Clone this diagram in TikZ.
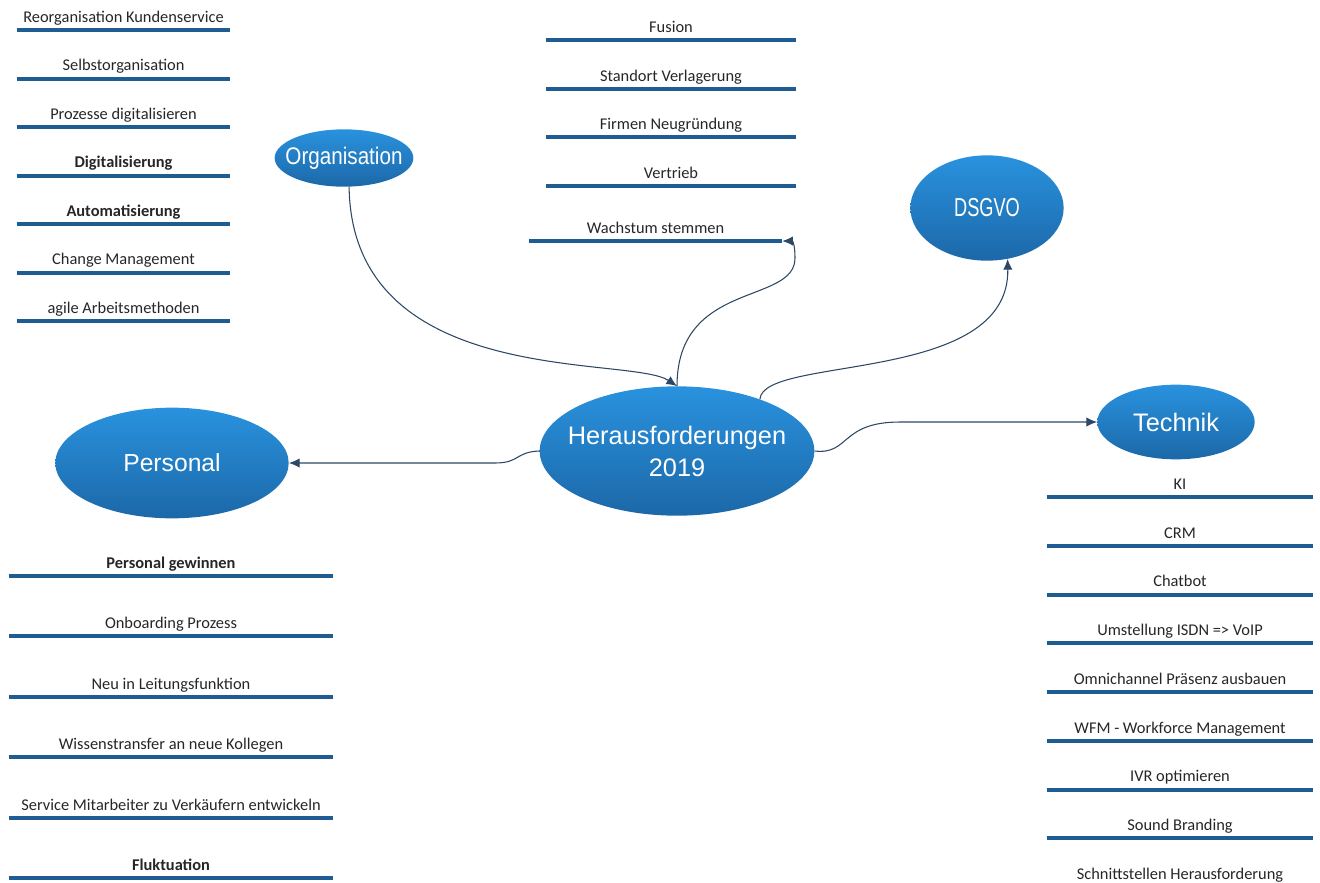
\documentclass[tikz,border=0pt]{standalone}
\usepackage{fontspec}
\setmainfont{Carlito}
\newfontfamily\ellfont{Liberation Sans}
\usepackage{xcolor}
\usetikzlibrary{arrows.meta,shapes.geometric,calc}
\definecolor{barblue}{RGB}{31,92,145}
\definecolor{connblue}{RGB}{45,72,100}
\definecolor{elltop}{RGB}{41,146,222}
\definecolor{ellbot}{RGB}{28,104,168}
\tikzset{>={Latex[length=8pt,width=7pt]}}
\tikzset{
  topic/.style={ellipse, inner sep=0pt, top color=elltop, bottom color=ellbot, draw=none},
  topictext/.style={text=white, align=center, inner sep=0pt},
  item/.style={anchor=south, inner xsep=0pt, inner ysep=3pt, text depth=.25em, text=black!85, font=\fontsize{12.3}{14}\selectfont},
  bar/.style={draw=barblue, line width=3pt},
  conn/.style={->, draw=connblue, fill=none, line width=0.8pt}
}

\begin{document}
\begin{tikzpicture}[x=0.75pt,y=-0.75pt]
  \useasboundingbox (0,0) rectangle (1320,882);

  % Topics
  \node[topic, minimum width=206pt, minimum height=97pt] (herausf) at (677,451) {};
  \node[topictext, font=\ellfont\fontsize{19}{24}\selectfont] (herausf-t) at (herausf) {Herausforderungen\\2019};
  \node[topic, minimum width=104pt, minimum height=43pt] (orga) at (344,158) {};
  \node[topictext, font=\ellfont\fontsize{18}{20}\selectfont] (orga-t) at (orga) {\scalebox{0.86}[1]{Organisation}};
  \node[topic, minimum width=115pt, minimum height=79pt] (dsgvo) at (987,208) {};
  \node[topictext, font=\ellfont\fontsize{19.5}{22}\selectfont] (dsgvo-t) at (dsgvo) {\scalebox{0.7}[1]{DSGVO}};
  \node[topic, minimum width=118pt, minimum height=56pt] (technik) at (1176,422) {};
  \node[topictext, font=\ellfont\fontsize{19}{22}\selectfont] (technik-t) at (technik) {Technik};
  \node[topic, minimum width=175pt, minimum height=83pt] (personal) at (172,463) {};
  \node[topictext, font=\ellfont\fontsize{18.5}{22}\selectfont] (personal-t) at (personal) {Personal};

  % Organisation items
  \foreach \txt [count=\i] in {Reorganisation Kundenservice, Selbstorganisation, Prozesse digitalisieren, \textbf{Digitalisierung}, \textbf{Automatisierung}, Change Management, agile Arbeitsmethoden}{
    \node[item, minimum width=159.75pt] (org\i) at ({123.5},{30+48.5*(\i-1)}) {\txt};
    \draw[bar] (org\i.south west) -- (org\i.south east);
  }

  % Wachstum items
  \foreach \txt [count=\i] in {Fusion, Standort Verlagerung, Firmen Neugründung, Vertrieb}{
    \node[item, minimum width=187.5pt] (wa\i) at ({671},{40+48.7*(\i-1)}) {\txt};
    \draw[bar] (wa\i.south west) -- (wa\i.south east);
  }
  \node[item, minimum width=189.75pt] (wach) at (655.5,241) {Wachstum stemmen};
  \draw[bar] (wach.south west) -- (wach.south east);

  % Technik items
  \foreach \txt [count=\i] in {KI, CRM, Chatbot, Umstellung ISDN => VoIP, Omnichannel Präsenz ausbauen, WFM - Workforce Management, IVR optimieren, Sound Branding, Schnittstellen Herausforderung}{
    \node[item, minimum width=199.5pt] (tec\i) at ({1180},{497+48.75*(\i-1)}) {\txt};
    \draw[bar] (tec\i.south west) -- (tec\i.south east);
  }

  % Personal items
  \foreach \txt [count=\i] in {\textbf{Personal gewinnen}, Onboarding Prozess, Neu in Leitungsfunktion, Wissenstransfer an neue Kollegen, Service Mitarbeiter zu Verkäufern entwickeln, \textbf{Fluktuation}}{
    \node[item, minimum width=243pt] (per\i) at ({171},{576+60.4*(\i-1)}) {\txt};
    \draw[bar] (per\i.south west) -- (per\i.south east);
  }

  % Connectors
  \draw[conn] (orga.-80) .. controls (352,390) and (630,355) .. (herausf.north);
  \draw[conn] (herausf.north) .. controls (677,280) and (795,305) .. (795,258) .. controls (795,246) and (793,241) .. (wach.south east);
  \draw[conn] (herausf.32) .. controls (763,355) and (1010,385) .. (dsgvo.-68);
  \draw[conn] (herausf.east) .. controls (850,455) and (840,422) .. (900,422) -- (technik.west);
  \draw[conn] (herausf.west) .. controls (515,452) and (520,463) .. (495,463) -- (personal.east);
\end{tikzpicture}
\end{document}
